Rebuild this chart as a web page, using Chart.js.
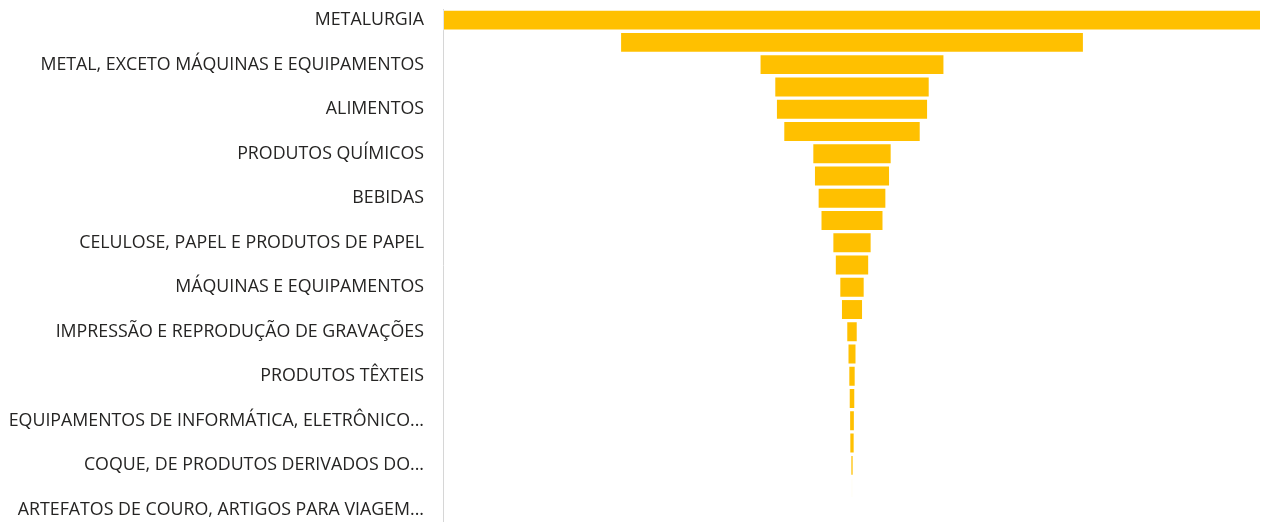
<!DOCTYPE html>
<html>
<head>
<meta charset="utf-8">
<script src="https://cdn.jsdelivr.net/npm/chart.js@4"></script>
<style>
  html, body { margin: 0; padding: 0; background: #fff; }
  #wrap { width: 1265px; height: 522px; position: relative; }
</style>
</head>
<body>
<div id="wrap"><canvas id="funnelChart"></canvas></div>
<script>
// setores (ordem do funil) - so os rotulos pares aparecem no eixo
const categories = [
  'METALURGIA',
  'VEÍCULOS AUTOMOTORES, REBOQUES E...',
  'METAL, EXCETO MÁQUINAS E EQUIPAMENTOS',
  'PRODUTOS DE MINERAIS NÃO-METÁLICOS',
  'ALIMENTOS',
  'PRODUTOS DE BORRACHA E DE MATERIAL...',
  'PRODUTOS QUÍMICOS',
  'MÁQUINAS, APARELHOS E MATERIAIS ELÉTRICOS',
  'BEBIDAS',
  'MANUTENÇÃO, REPARAÇÃO E INSTALAÇÃO...',
  'CELULOSE, PAPEL E PRODUTOS DE PAPEL',
  'PRODUTOS DE MADEIRA',
  'MÁQUINAS E EQUIPAMENTOS',
  'MÓVEIS',
  'IMPRESSÃO E REPRODUÇÃO DE GRAVAÇÕES',
  'CONFECÇÃO DE ARTIGOS DO VESTUÁRIO...',
  'PRODUTOS TÊXTEIS',
  'PRODUTOS DIVERSOS',
  'EQUIPAMENTOS DE INFORMÁTICA, ELETRÔNICO...',
  'OUTROS EQUIPAMENTOS DE TRANSPORTE...',
  'COQUE, DE PRODUTOS DERIVADOS DO...',
  'PRODUTOS FARMOQUÍMICOS E...',
  'ARTEFATOS DE COURO, ARTIGOS PARA VIAGEM...'
];

const values = [1000, 567, 226, 190, 186, 168, 97, 93, 84, 77, 48, 42, 31, 27, 14, 11, 9, 8, 7, 6.5, 4, 2.5, 1.5];

const maxValue = 1000;

// funil: barras flutuantes centradas no zero
const funnelData = values.map(v => [-v / 2, v / 2]);

new Chart(document.getElementById('funnelChart').getContext('2d'), {
  type: 'bar',
  data: {
    labels: categories,
    datasets: [{
      data: funnelData,
      backgroundColor: '#FFC000',
      borderColor: 'rgba(255,255,255,0.35)',
      borderWidth: 1,
      borderSkipped: false,
      barPercentage: 0.94,
      categoryPercentage: 1
    }]
  },
  options: {
    indexAxis: 'y',
    responsive: true,
    maintainAspectRatio: false,
    animation: false,
    layout: { padding: { top: 9, bottom: 1, right: 4, left: 0 } },
    plugins: {
      legend: { display: false },
      tooltip: { enabled: false }
    },
    scales: {
      x: {
        display: false,
        min: -maxValue / 2,
        max: maxValue / 2
      },
      y: {
        grid: { display: false, drawTicks: false },
        border: { display: true, color: '#d6d6d6', width: 1 },
        afterFit: scale => {
          scale.width = 443;
          scale.paddingTop = 0;
          scale.paddingBottom = 0;
        },
        ticks: {
          autoSkip: false,
          padding: 19,
          color: '#252423',
          font: { family: 'Open Sans', size: 17.8 },
          callback: function (val, i) {
            return i % 2 === 0 ? this.getLabelForValue(val) : '';
          }
        }
      }
    }
  }
});
</script>
</body>
</html>
